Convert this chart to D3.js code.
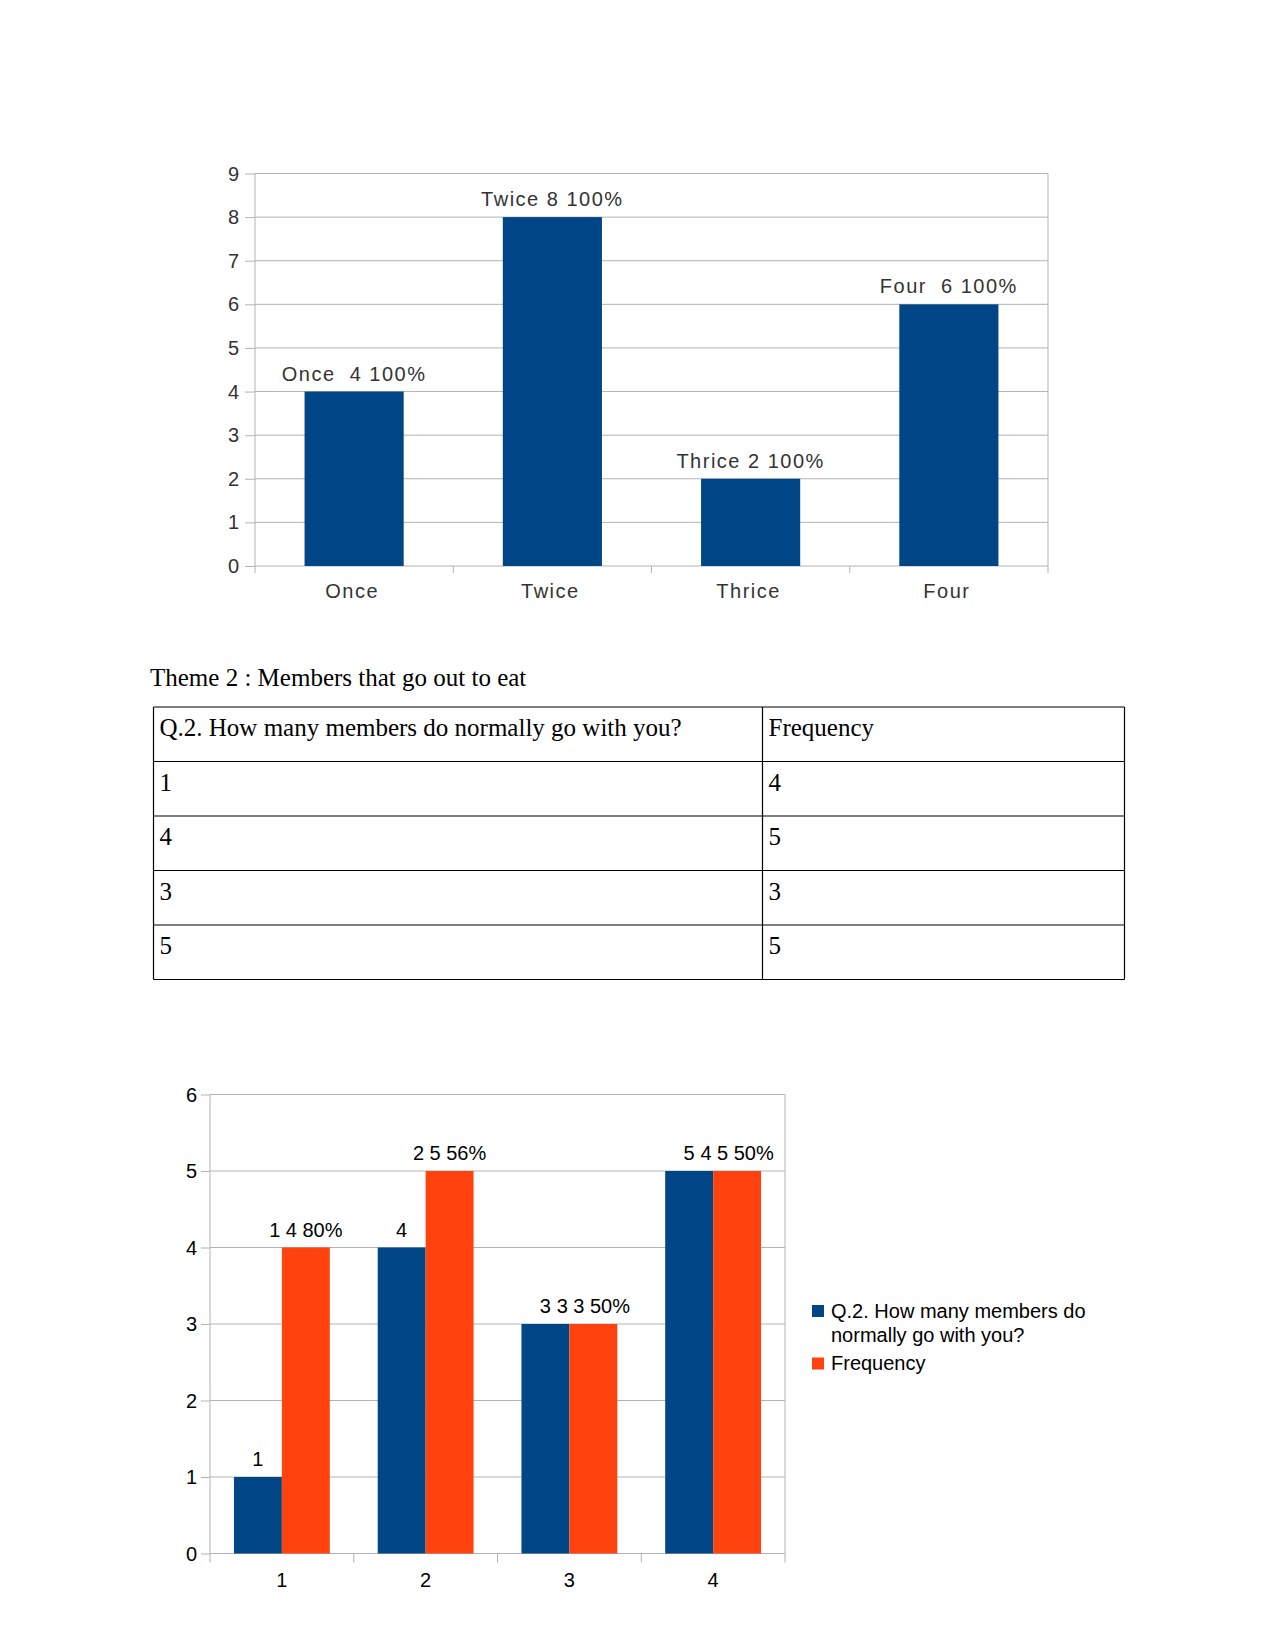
<!DOCTYPE html>
<html>
<head>
<meta charset="utf-8">
<script src="https://cdn.jsdelivr.net/npm/d3@7"></script>
<style>
  html, body { margin: 0; padding: 0; background: #fff; }
  svg { display: block; }
</style>
</head>
<body>
<svg id="page" width="1275" height="1650"></svg>
<script>
// ---------- Data ----------
const categories1 = ["Once", "Twice", "Thrice", "Four"];
const values1 = [4, 8, 2, 6];
const labels1 = ["Once  4 100%", "Twice 8 100%", "Thrice 2 100%", "Four  6 100%"];
const yTicks1 = [0, 1, 2, 3, 4, 5, 6, 7, 8, 9];

const tableTitle = "Theme 2 : Members that go out to eat";
const tableHeader = ["Q.2. How many members do normally go with you?", "Frequency"];
const tableMembers = ["1", "4", "3", "5"];
const tableFrequency = ["4", "5", "3", "5"];

const categories2 = ["1", "2", "3", "4"];
const seriesNames2 = ["Q.2. How many members do normally go with you?", "Frequency"];
const legendLines2 = [["Q.2. How many members do", "normally go with you?"], ["Frequency"]];
const membersValues = [1, 4, 3, 5];
const frequencyValues = [4, 5, 3, 5];
const membersLabels = ["1", "4", "3", "5"];
const frequencyLabels = ["1 4 80%", "2 5 56%", "3 3 50%", "4 5 50%"];
const yTicks2 = [0, 1, 2, 3, 4, 5, 6];

// ---------- Styles ----------
const BLUE = "#004586", ORANGE = "#ff420e", GRID = "#b3b3b3";
const SANS = "'Liberation Sans', Arial, sans-serif";
const svg = d3.select("#page");

// ---------- Chart 1 ----------
(function () {
  const L = 255, R = 1048, T = 173.5, B = 566;
  const g = svg.append("g").attr("font-family", SANS)
    .attr("font-size", 20).attr("fill", "#333");
  const y = d3.scaleLinear().domain([0, 9]).range([B, T]);
  const x = d3.scaleBand().domain(categories1).range([L, R]).paddingInner(0.5).paddingOuter(0.25);
  const xs = d3.scaleBand().domain(categories1).range([L, R]);

  g.append("g").selectAll("line").data(yTicks1).join("line")
    .attr("x1", L).attr("x2", R).attr("y1", d => y(d)).attr("y2", d => y(d))
    .attr("stroke", GRID).attr("stroke-width", 1);
  const ya = g.append("g").attr("transform", `translate(${L},0)`)
    .call(d3.axisLeft(y).tickValues(yTicks1).tickSize(10).tickFormat(""));
  ya.select(".domain").remove();
  ya.selectAll(".tick line").attr("stroke", GRID);
  g.append("g").selectAll("text").data(yTicks1).join("text")
    .attr("x", L - 16).attr("y", d => y(d) + 7).attr("text-anchor", "end")
    .text(d => d3.format("d")(d));
  g.append("line").attr("x1", L).attr("x2", L).attr("y1", T).attr("y2", B + 7).attr("stroke", GRID);
  g.append("line").attr("x1", R).attr("x2", R).attr("y1", T).attr("y2", B + 7).attr("stroke", GRID);
  g.append("g").selectAll("line").data(categories1.slice(1)).join("line")
    .attr("x1", d => xs(d)).attr("x2", d => xs(d)).attr("y1", B).attr("y2", B + 7)
    .attr("stroke", GRID);
  g.append("g").selectAll("rect").data(values1).join("rect")
    .attr("x", (d, i) => x(categories1[i])).attr("width", x.bandwidth())
    .attr("y", d => y(d)).attr("height", d => B - y(d)).attr("fill", BLUE);
  g.append("g").style("letter-spacing", "1.5px").selectAll("text").data(values1).join("text")
    .attr("x", (d, i) => x(categories1[i]) + x.bandwidth() / 2)
    .attr("y", d => y(d) - 11).attr("text-anchor", "middle")
    .style("white-space", "pre").attr("xml:space", "preserve")
    .text((d, i) => labels1[i]);
  g.append("g").style("letter-spacing", "1.5px").selectAll("text").data(categories1).join("text")
    .attr("x", d => xs(d) + xs.bandwidth() / 2 - 2).attr("y", 598).attr("text-anchor", "middle")
    .text(d => d);
})();

// ---------- Table ----------
(function () {
  const g = svg.append("g").attr("font-family", "'Liberation Serif', 'Times New Roman', serif")
    .attr("font-size", 25).attr("fill", "#000");
  g.append("text").attr("x", 150).attr("y", 686).text(tableTitle);
  const L = 153.5, M = 762.5, R = 1124.5, T = 707, rowH = 54.5;
  const rows = [tableHeader].concat(tableMembers.map((m, i) => [m, tableFrequency[i]]));
  const yRow = d3.scaleLinear().domain([0, rows.length]).range([T, T + rowH * rows.length]);
  g.append("g").selectAll("line").data(d3.range(rows.length + 1)).join("line")
    .attr("x1", L).attr("x2", R).attr("y1", d => yRow(d)).attr("y2", d => yRow(d))
    .attr("stroke", "#000").attr("stroke-width", 1.2);
  [L, M, R].forEach(xv => g.append("line").attr("x1", xv).attr("x2", xv)
    .attr("y1", yRow(0)).attr("y2", yRow(rows.length)).attr("stroke", "#000").attr("stroke-width", 1.2));
  rows.forEach((r, i) => {
    g.append("text").attr("x", L + 6).attr("y", yRow(i) + 29).text(r[0]);
    g.append("text").attr("x", M + 6).attr("y", yRow(i) + 29).text(r[1]);
  });
})();

// ---------- Chart 2 ----------
(function () {
  const L = 210, R = 785, T = 1094.5, B = 1553.5;
  const g = svg.append("g").attr("font-family", SANS)
    .attr("font-size", 20).attr("fill", "#000");
  const y = d3.scaleLinear().domain([0, 6]).range([B, T]);
  const xs = d3.scaleBand().domain(categories2).range([L, R]);
  const x0 = d3.scaleBand().domain(categories2).range([L, R]).paddingInner(1 / 3).paddingOuter(1 / 6);
  const x1 = d3.scaleBand().domain(seriesNames2).range([0, x0.bandwidth()]);

  g.append("g").selectAll("line").data(yTicks2).join("line")
    .attr("x1", L).attr("x2", R).attr("y1", d => y(d)).attr("y2", d => y(d))
    .attr("stroke", GRID);
  const ya = g.append("g").attr("transform", `translate(${L},0)`)
    .call(d3.axisLeft(y).tickValues(yTicks2).tickSize(9).tickFormat(""));
  ya.select(".domain").remove();
  ya.selectAll(".tick line").attr("stroke", GRID);
  g.append("g").selectAll("text").data(yTicks2).join("text")
    .attr("x", L - 13).attr("y", d => y(d) + 7).attr("text-anchor", "end")
    .text(d => d3.format("d")(d));
  g.append("line").attr("x1", L).attr("x2", L).attr("y1", T).attr("y2", B + 9).attr("stroke", GRID);
  g.append("line").attr("x1", R).attr("x2", R).attr("y1", T).attr("y2", B + 9).attr("stroke", GRID);
  g.append("g").selectAll("line").data(categories2.slice(1)).join("line")
    .attr("x1", d => xs(d)).attr("x2", d => xs(d)).attr("y1", B).attr("y2", B + 9)
    .attr("stroke", GRID);

  const series = [
    { name: seriesNames2[0], values: membersValues, labels: membersLabels, color: BLUE },
    { name: seriesNames2[1], values: frequencyValues, labels: frequencyLabels, color: ORANGE }
  ];
  series.forEach(s => {
    g.append("g").selectAll("rect").data(s.values).join("rect")
      .attr("x", (d, i) => x0(categories2[i]) + x1(s.name)).attr("width", x1.bandwidth())
      .attr("y", d => y(d)).attr("height", d => B - y(d)).attr("fill", s.color);
  });
  series.forEach(s => {
    g.append("g").selectAll("text").data(s.values).join("text")
      .attr("x", (d, i) => x0(categories2[i]) + x1(s.name) + x1.bandwidth() / 2)
      .attr("y", d => y(d) - 11).attr("text-anchor", "middle")
      .text((d, i) => s.labels[i]);
  });
  g.append("g").selectAll("text").data(categories2).join("text")
    .attr("x", d => xs(d) + xs.bandwidth() / 2).attr("y", 1587).attr("text-anchor", "middle")
    .text(d => d);

  const lg = g.append("g");
  const legendY = [1317.5, 1370];
  series.forEach((s, i) => {
    lg.append("rect").attr("x", 812).attr("y", legendY[i] - 12.5).attr("width", 12).attr("height", 12)
      .attr("fill", s.color);
    const t = lg.append("text").attr("x", 831).attr("y", legendY[i]);
    legendLines2[i].forEach((ln, j) => t.append("tspan").attr("x", 831).attr("dy", j === 0 ? 0 : 24).text(ln));
  });
})();
</script>
</body>
</html>
